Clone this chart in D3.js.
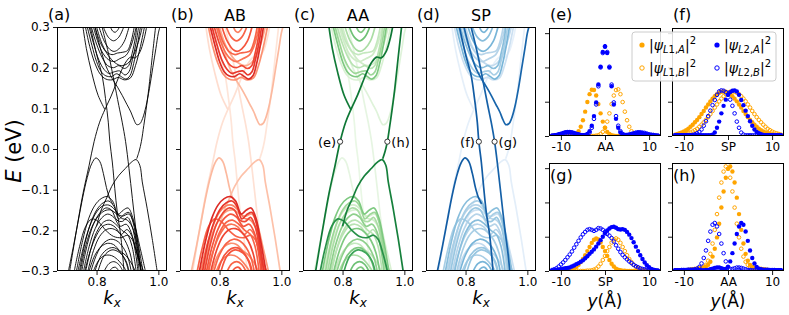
<!DOCTYPE html>
<html>
<head>
<meta charset="utf-8">
<script src="https://cdn.jsdelivr.net/npm/d3@7"></script>
<style>
  body { margin: 0; background: #fff; }
  svg text { font-family: "DejaVu Sans", sans-serif; fill: #000; }
</style>
</head>
<body>
<svg id="chart" width="789" height="315"></svg>
<script>
// ---- band structure (k_x, E in eV) ----
var kTicks = [0.8, 1.0];
var eTicks = [0.3, 0.2, 0.1, 0.0, -0.1, -0.2, -0.3];
var panelTags = ["(a)", "(b)", "(c)", "(d)"];
var panelTitles = ["", "AB", "AA", "SP"];

var bandNames = ["s1","s2","s3","g4","g5","g6","d1","d2","d3","d4",
                 "v1","v2","v3","v4","v5","v6","v7","v8","v9","v10","v11","v12","v13","v14","v15",
                 "c1","c2","c3","c4","c5","c6","c7","c8","c9","c10"];
var bands = [
  [[0.713,-0.30],[0.735,-0.20],[0.756,-0.11],[0.776,-0.04],[0.792,0.018],[0.810,0.066],[0.827,0.097],[0.846,0.128],[0.864,0.162],[0.880,0.192],[0.895,0.214],[0.910,0.226],[0.925,0.224],[0.940,0.238],[0.953,0.268],[0.962,0.30]],
  [[0.756,0.30],[0.767,0.247],[0.784,0.189],[0.805,0.132],[0.827,0.097]],
  [[0.991,0.30],[0.980,0.225],[0.969,0.148],[0.960,0.095],[0.953,0.058],[0.945,0.018],[0.938,-0.005],[0.930,-0.024]],
  [[0.800,-0.190],[0.815,-0.150],[0.833,-0.120],[0.849,-0.092],[0.871,-0.066],[0.893,-0.048],[0.912,-0.033],[0.928,-0.026],[0.940,-0.040],[0.948,-0.081],[0.964,-0.147],[0.980,-0.220],[0.996,-0.300]],
  [[0.728,-0.30],[0.745,-0.24],[0.765,-0.19],[0.785,-0.172],[0.805,-0.178],[0.830,-0.200],[0.855,-0.215],[0.880,-0.218],[0.900,-0.212],[0.915,-0.222],[0.930,-0.255],[0.945,-0.30]],
  [[0.805,-0.30],[0.825,-0.262],[0.850,-0.248],[0.875,-0.255],[0.895,-0.275],[0.905,-0.30]],
  [[0.709,-0.30],[0.725,-0.24],[0.740,-0.18],[0.755,-0.12],[0.770,-0.07],[0.785,-0.035],[0.798,-0.022],[0.810,-0.030],[0.822,-0.060],[0.832,-0.095],[0.842,-0.120],[0.852,-0.135]],
  [[0.780,0.30],[0.801,0.230],[0.818,0.181],[0.829,0.124],[0.838,0.066],[0.843,0.018],[0.851,-0.032],[0.859,-0.097],[0.867,-0.155],[0.878,-0.212],[0.889,-0.30]],
  [[0.818,0.30],[0.840,0.230],[0.856,0.169],[0.872,0.107],[0.883,0.066],[0.894,0.018],[0.905,-0.048],[0.916,-0.122],[0.927,-0.196],[0.938,-0.261],[0.943,-0.30]],
  [[0.795,0.30],[0.807,0.263],[0.830,0.205],[0.851,0.173],[0.868,0.152],[0.883,0.132],[0.898,0.110],[0.911,0.091],[0.921,0.072],[0.930,0.060],[0.940,0.062],[0.949,0.075],[0.960,0.105],[0.971,0.148],[0.982,0.200],[0.992,0.247],[1.000,0.285],[1.005,0.30]],
  [[0.735,-0.30],[0.755,-0.225],[0.775,-0.17],[0.795,-0.138],[0.815,-0.122],[0.835,-0.117],[0.852,-0.128],[0.870,-0.160],[0.887,-0.150],[0.902,-0.145],[0.917,-0.168],[0.932,-0.222],[0.950,-0.30]],
  [[0.745,-0.30],[0.763,-0.23],[0.782,-0.18],[0.802,-0.148],[0.822,-0.132],[0.840,-0.128],[0.857,-0.142],[0.872,-0.172],[0.890,-0.160],[0.905,-0.156],[0.918,-0.180],[0.930,-0.230],[0.943,-0.30]],
  [[0.752,-0.30],[0.770,-0.235],[0.790,-0.185],[0.810,-0.158],[0.830,-0.145],[0.848,-0.150],[0.866,-0.175],[0.884,-0.178],[0.900,-0.168],[0.915,-0.190],[0.928,-0.240],[0.938,-0.30]],
  [[0.758,-0.30],[0.776,-0.24],[0.796,-0.195],[0.816,-0.170],[0.836,-0.160],[0.856,-0.168],[0.876,-0.190],[0.896,-0.185],[0.912,-0.205],[0.925,-0.25],[0.934,-0.30]],
  [[0.765,-0.30],[0.782,-0.245],[0.800,-0.205],[0.822,-0.180],[0.842,-0.175],[0.862,-0.185],[0.882,-0.200],[0.900,-0.210],[0.915,-0.24],[0.928,-0.30]],
  [[0.772,-0.30],[0.790,-0.25],[0.810,-0.215],[0.832,-0.198],[0.852,-0.196],[0.872,-0.205],[0.892,-0.225],[0.908,-0.255],[0.920,-0.30]],
  [[0.782,-0.30],[0.800,-0.26],[0.822,-0.232],[0.845,-0.222],[0.866,-0.226],[0.886,-0.242],[0.902,-0.268],[0.912,-0.30]],
  [[0.795,-0.30],[0.815,-0.262],[0.838,-0.245],[0.858,-0.243],[0.878,-0.255],[0.895,-0.278],[0.903,-0.30]],
  [[0.825,-0.30],[0.840,-0.282],[0.856,-0.277],[0.872,-0.284],[0.885,-0.30]],
  [[0.842,-0.30],[0.852,-0.292],[0.862,-0.291],[0.872,-0.30]],
  [[0.740,-0.30],[0.758,-0.24],[0.778,-0.19],[0.800,-0.155],[0.820,-0.140],[0.840,-0.138],[0.860,-0.150],[0.880,-0.170],[0.900,-0.175],[0.920,-0.200],[0.935,-0.26],[0.945,-0.30]],
  [[0.748,-0.30],[0.766,-0.235],[0.786,-0.190],[0.806,-0.165],[0.826,-0.152],[0.846,-0.150],[0.866,-0.160],[0.884,-0.165],[0.904,-0.160],[0.922,-0.185],[0.940,-0.24],[0.958,-0.30]],
  [[0.762,-0.30],[0.780,-0.250],[0.800,-0.212],[0.820,-0.190],[0.840,-0.185],[0.860,-0.192],[0.880,-0.210],[0.898,-0.198],[0.915,-0.215],[0.930,-0.255],[0.952,-0.30]],
  [[0.776,-0.30],[0.794,-0.262],[0.815,-0.240],[0.835,-0.232],[0.855,-0.235],[0.875,-0.250],[0.895,-0.262],[0.912,-0.280],[0.925,-0.30]],
  [[0.790,-0.30],[0.806,-0.275],[0.826,-0.262],[0.848,-0.262],[0.868,-0.272],[0.888,-0.290],[0.896,-0.30]],
  [[0.770,0.30],[0.785,0.255],[0.800,0.215],[0.815,0.190],[0.830,0.180],[0.848,0.178],[0.865,0.185],[0.880,0.178],[0.895,0.172],[0.908,0.180],[0.920,0.210],[0.932,0.255],[0.942,0.30]],
  [[0.776,0.30],[0.792,0.255],[0.808,0.218],[0.824,0.196],[0.840,0.186],[0.858,0.190],[0.875,0.192],[0.892,0.182],[0.905,0.190],[0.916,0.220],[0.928,0.262],[0.936,0.30]],
  [[0.783,0.30],[0.800,0.258],[0.818,0.225],[0.836,0.205],[0.855,0.200],[0.872,0.205],[0.890,0.198],[0.904,0.205],[0.915,0.235],[0.926,0.275],[0.930,0.30]],
  [[0.795,0.30],[0.812,0.262],[0.830,0.240],[0.850,0.232],[0.868,0.236],[0.885,0.238],[0.900,0.242],[0.912,0.265],[0.922,0.30]],
  [[0.808,0.30],[0.825,0.265],[0.843,0.245],[0.857,0.240],[0.872,0.246],[0.890,0.265],[0.905,0.30]],
  [[0.822,0.30],[0.838,0.275],[0.855,0.266],[0.872,0.275],[0.888,0.30]],
  [[0.845,0.30],[0.852,0.290],[0.860,0.287],[0.868,0.292],[0.874,0.30]],
  [[0.790,0.30],[0.805,0.262],[0.820,0.236],[0.838,0.220],[0.856,0.215],[0.875,0.222],[0.895,0.230],[0.910,0.250],[0.922,0.280],[0.928,0.30]],
  [[0.764,0.30],[0.778,0.252],[0.794,0.212],[0.812,0.184],[0.830,0.172],[0.850,0.170],[0.870,0.176],[0.890,0.170],[0.910,0.175],[0.926,0.205],[0.942,0.252],[0.955,0.30]],
  [[0.800,0.30],[0.818,0.258],[0.838,0.230],[0.860,0.212],[0.880,0.205],[0.900,0.210],[0.918,0.228],[0.935,0.262],[0.948,0.30]]
];
// projected weight of each band on the AB, AA and SP regions
var weightAB = [0.08,0.10,0.06,0.22,0.55,0.60,0.25,0.06,0.08,0.25,
                0.75,0.70,0.65,0.60,0.55,0.65,0.55,0.60,0.55,0.60,0.45,0.35,0.50,0.40,0.45,
                0.75,0.70,0.65,0.55,0.60,0.55,0.45,0.50,0.40,0.30];
var weightAA = [0.92,0.90,0.92,0.88,0.80,0.70,0.08,0.06,0.08,0.12,
                0.50,0.40,0.35,0.45,0.30,0.50,0.45,0.50,0.55,0.50,0.20,0.15,0.30,0.25,0.35,
                0.50,0.40,0.30,0.25,0.35,0.55,0.50,0.20,0.15,0.20];
var weightSP = [0.05,0.06,0.05,0.07,0.35,0.40,0.92,0.92,0.90,0.88,
                0.45,0.35,0.40,0.30,0.45,0.35,0.50,0.40,0.50,0.50,0.30,0.20,0.30,0.25,0.35,
                0.50,0.35,0.45,0.30,0.50,0.45,0.50,0.30,0.20,0.25];

var markerE = 0.018;
var markerAA = [0.792, 0.945];
var markerAALabels = ["(e)", "(h)"];
var markerSP = [0.843, 0.894];
var markerSPLabels = ["(f)", "(g)"];

// ---- wavefunction weights vs y (Angstrom) ----
var yPos = [-12,-11.5,-11,-10.5,-10,-9.5,-9, -8.5,-8,-7.5,-7,-6.5,-6,-5.5, -5,-4.5,-4,-3.5,-3,-2.5,-2,
            -1.5,-1,-0.5,0,0.5,1,1.5, 2,2.5,3,3.5,4,4.5,5, 5.5,6,6.5,7,7.5,8,8.5, 9,9.5,10,10.5,11,11.5,12];
var yTicks = [-10, 0, 10];

var eL1A = [0,0,0,0,0,0,0.01, 0.01,0.01,0.02,0.03,0.07,0.14,0.27, 0.46,0.71,0.99,1.22,1.35,1.34,1.18,
            0.93,0.66,0.42,0.24,0.12,0.06,0.02, 0.01,0,0,0,0,0,0, 0,0,0,0,0,0,0, 0,0,0,0,0,0,0];
var eL1B = [0,0,0,0,0,0,0, 0,0,0,0,0,0,0, 0,0,0,0,0,0,0.01,
            0.02,0.06,0.12,0.24,0.42,0.66,0.93, 1.18,1.34,1.36,1.22,0.99,0.71,0.46, 0.27,0.14,0.07,0.03,0.02,0.01,0.01, 0.01,0,0,0,0,0,0];
var eL2A = [0.01,0.02,0.03,0.05,0.07,0.09,0.11, 0.12,0.12,0.11,0.09,0.07,0.05,0.03, 0.02,0.03,0.06,0.14,0.30,0.58,0.98,
            1.50,2.02,2.45,2.60,2.42,2.00,1.45, 0.92,0.50,0.24,0.10,0.04,0.03,0.03, 0.04,0.05,0.07,0.08,0.09,0.09,0.08, 0.06,0.05,0.03,0.02,0.02,0.01,0.01];
var eL2B = [0.01,0.01,0.02,0.03,0.04,0.05,0.06, 0.07,0.07,0.06,0.05,0.04,0.03,0.02, 0.02,0.02,0.04,0.10,0.24,0.50,0.92,
            1.45,2.00,2.42,2.62,2.45,2.02,1.50, 0.98,0.58,0.30,0.14,0.06,0.03,0.03, 0.04,0.06,0.08,0.10,0.11,0.11,0.10, 0.09,0.07,0.05,0.04,0.03,0.02,0.01];

var fL1A = [0.04,0.06,0.08,0.10,0.13,0.17,0.21, 0.27,0.33,0.40,0.47,0.55,0.64,0.73, 0.83,0.92,1.01,1.09,1.16,1.22,1.26,
            1.29,1.30,1.29,1.26,1.22,1.16,1.09, 1.01,0.92,0.83,0.73,0.64,0.55,0.47, 0.40,0.33,0.27,0.21,0.17,0.13,0.10, 0.08,0.06,0.04,0.03,0.02,0.02,0.01];
var fL1B = [0.01,0.02,0.02,0.03,0.04,0.06,0.08, 0.10,0.13,0.17,0.21,0.27,0.33,0.40, 0.47,0.55,0.64,0.73,0.83,0.92,1.01,
            1.09,1.16,1.22,1.26,1.29,1.30,1.29, 1.26,1.22,1.16,1.09,1.01,0.92,0.83, 0.73,0.64,0.55,0.47,0.40,0.33,0.27, 0.21,0.17,0.13,0.10,0.08,0.06,0.04];
var fL2A = [0.02,0.02,0.02,0.02,0.02,0.02,0.02, 0.02,0.02,0.02,0.02,0.02,0.02,0.02, 0.02,0.02,0.02,0.04,0.10,0.24,0.42,
            0.66,0.88,1.06,1.20,1.28,1.32,1.33, 1.30,1.20,1.05,0.90,0.74,0.58,0.43, 0.30,0.19,0.12,0.08,0.05,0.03,0.02, 0.02,0.02,0.02,0.02,0.02,0.02,0.02];
var fL2B = [0.02,0.02,0.02,0.02,0.02,0.02,0.02, 0.02,0.03,0.05,0.08,0.12,0.19,0.30, 0.43,0.58,0.74,0.90,1.05,1.20,1.30,
            1.33,1.32,1.28,1.20,1.06,0.88,0.66, 0.42,0.24,0.10,0.04,0.02,0.02,0.02, 0.02,0.02,0.02,0.02,0.02,0.02,0.02, 0.02,0.02,0.02,0.02,0.02,0.02,0.02];

var gL1A = [0,0,0,0,0.01,0.01,0.01, 0.02,0.03,0.05,0.08,0.12,0.18,0.26, 0.35,0.46,0.58,0.70,0.82,0.91,0.95,
            0.92,0.83,0.70,0.58,0.44,0.32,0.21, 0.13,0.07,0.04,0.02,0.01,0.01,0, 0,0,0,0,0,0,0, 0,0,0,0,0,0,0];
var gL1B = [0,0,0,0,0,0,0, 0,0,0,0,0,0,0, 0,0,0.01,0.01,0.02,0.04,0.07,
            0.13,0.21,0.32,0.44,0.58,0.70,0.83, 0.92,0.95,0.91,0.82,0.70,0.58,0.46, 0.35,0.26,0.18,0.12,0.08,0.05,0.03, 0.02,0.01,0.01,0.01,0,0,0];
var gL2A = [0.01,0.02,0.03,0.04,0.05,0.07,0.08, 0.09,0.10,0.13,0.16,0.20,0.23,0.27, 0.31,0.37,0.43,0.50,0.56,0.63,0.71,
            0.80,0.90,1.00,1.10,1.18,1.24,1.28, 1.29,1.26,1.22,1.21,1.22,1.20,1.14, 1.06,0.96,0.84,0.71,0.58,0.46,0.35, 0.25,0.17,0.11,0.06,0.04,0.02,0.01];
var gL2B = [0.03,0.05,0.08,0.13,0.19,0.25,0.32, 0.40,0.48,0.57,0.68,0.78,0.88,0.98, 1.07,1.14,1.20,1.22,1.20,1.17,1.20,
            1.25,1.24,1.20,1.14,1.08,1.03,0.96, 0.86,0.75,0.65,0.55,0.47,0.40,0.34, 0.28,0.23,0.18,0.14,0.11,0.08,0.06, 0.05,0.04,0.03,0.02,0.02,0.01,0.01];

var hL1A = [0.01,0.01,0.01,0.01,0.01,0.02,0.03, 0.04,0.05,0.06,0.06,0.07,0.08,0.10, 0.13,0.18,0.27,0.42,0.65,0.98,1.38,
            1.85,2.32,2.72,2.98,3.05,2.90,2.58, 2.14,1.66,1.20,0.80,0.50,0.30,0.18, 0.12,0.09,0.08,0.07,0.06,0.05,0.04, 0.03,0.02,0.01,0.01,0.01,0.01,0.01];
var hL1B = [0.01,0.01,0.01,0.01,0.01,0.02,0.03, 0.04,0.05,0.06,0.07,0.08,0.09,0.12, 0.18,0.30,0.50,0.80,1.20,1.66,2.14,
            2.58,2.90,3.05,2.98,2.72,2.32,1.85, 1.38,0.98,0.65,0.42,0.27,0.18,0.13, 0.10,0.08,0.07,0.06,0.06,0.05,0.04, 0.03,0.02,0.01,0.01,0.01,0.01,0.01];
var hL2A = [0.02,0.02,0.02,0.02,0.02,0.02,0.02, 0.02,0.02,0.02,0.02,0.02,0.02,0.02, 0.03,0.03,0.05,0.07,0.09,0.10,0.10,
            0.08,0.06,0.06,0.12,0.28,0.52,0.80, 1.08,1.30,1.40,1.35,1.15,0.88,0.60, 0.38,0.22,0.12,0.07,0.05,0.04,0.04, 0.04,0.03,0.03,0.03,0.02,0.02,0.02];
var hL2B = [0.02,0.02,0.02,0.03,0.03,0.03,0.04, 0.04,0.04,0.05,0.07,0.12,0.22,0.38, 0.60,0.88,1.15,1.35,1.40,1.30,1.08,
            0.80,0.52,0.28,0.12,0.06,0.06,0.08, 0.10,0.10,0.09,0.07,0.05,0.03,0.03, 0.02,0.02,0.02,0.02,0.02,0.02,0.02, 0.02,0.02,0.02,0.02,0.02,0.02,0.02];

var psiPanels = [
  { tag: "(e)", site: "AA", series: [eL1A, eL1B, eL2A, eL2B] },
  { tag: "(f)", site: "SP", series: [fL1A, fL1B, fL2A, fL2B] },
  { tag: "(g)", site: "SP", series: [gL1A, gL1B, gL2A, gL2B] },
  { tag: "(h)", site: "AA", series: [hL1A, hL1B, hL2A, hL2B] }
];
var seriesSubs = ["L1,A", "L1,B", "L2,A", "L2,B"];
var seriesColors = ["orange", "orange", "#0000ff", "#0000ff"];
var seriesFilled = [true, false, true, false];

// ---- layout ----
var svg = d3.select("#chart");
var top0 = 27, bottom0 = 271, pw = 110;
var lefts = [57, 180, 303, 426];
var colormaps = [null, d3.interpolateReds, d3.interpolateGreens, d3.interpolateBlues];
var weights = [null, weightAB, weightAA, weightSP];

var yE = d3.scaleLinear().domain([-0.3, 0.3]).range([bottom0, top0]);

function styleAxis(g, size) {
  g.select(".domain").remove();
  g.selectAll(".tick line").attr("stroke", "#000").attr("stroke-width", 0.9);
  g.selectAll(".tick text").attr("font-size", size).attr("font-family", "DejaVu Sans, sans-serif").attr("fill", "#000");
}

lefts.forEach(function (left, p) {
  var xK = d3.scaleLinear().domain([0.672, 1.028]).range([left, left + pw]);
  var g = svg.append("g");
  var clipId = "clip" + p;
  svg.append("clipPath").attr("id", clipId).append("rect")
    .attr("x", left).attr("y", top0).attr("width", pw).attr("height", bottom0 - top0);

  var line = d3.line().x(function (d) { return xK(d[0]); }).y(function (d) { return yE(d[1]); })
    .curve(d3.curveCatmullRom.alpha(0.5));

  var order = d3.range(bands.length);
  if (p > 0) order.sort(function (a, b) { return weights[p][a] - weights[p][b]; });

  g.append("g").attr("clip-path", "url(#" + clipId + ")")
    .selectAll("path").data(order).enter().append("path")
    .attr("d", function (i) { return line(bands[i]); })
    .attr("fill", "none")
    .attr("stroke", function (i) { return p === 0 ? "#000" : colormaps[p](0.04 + 0.86 * weights[p][i]); })
    .attr("stroke-width", p === 0 ? 0.9 : 1.7);

  // axes
  var ax = g.append("g").attr("transform", "translate(" + left + ",0)")
    .call(d3.axisLeft(yE).tickValues(eTicks).tickSize(4).tickPadding(3)
      .tickFormat(p === 0 ? d3.format(".1f") : ""));
  styleAxis(ax, 12);
  var bx = g.append("g").attr("transform", "translate(0," + bottom0 + ")")
    .call(d3.axisBottom(xK).tickValues(kTicks).tickSize(4).tickPadding(2).tickFormat(d3.format(".1f")));
  styleAxis(bx, 12);

  g.append("rect").attr("x", left + 0.5).attr("y", top0 + 0.5).attr("width", pw - 1).attr("height", bottom0 - top0 - 1)
    .attr("fill", "none").attr("stroke", "#000").attr("stroke-width", 1);

  g.append("text").attr("x", left - 9).attr("y", 20).attr("font-size", 16).text(panelTags[p]);
  if (panelTitles[p]) {
    g.append("text").attr("x", left + pw / 2).attr("y", 21).attr("text-anchor", "middle")
      .attr("font-size", 16).text(panelTitles[p]);
  }

  var kl = g.append("text").attr("x", left + pw / 2).attr("y", 304).attr("text-anchor", "middle").attr("font-size", 18);
  kl.append("tspan").attr("font-style", "italic").text("k");
  kl.append("tspan").attr("font-style", "italic").attr("font-size", 12).attr("dy", 3).text("x");

  // marker points of panels (e)-(h)
  var mk = p === 2 ? markerAA : (p === 3 ? markerSP : null);
  var ml = p === 2 ? markerAALabels : markerSPLabels;
  if (mk) {
    mk.forEach(function (k, j) {
      g.append("circle").attr("cx", xK(k)).attr("cy", yE(markerE)).attr("r", 2.6)
        .attr("fill", "#fff").attr("stroke", "#333").attr("stroke-width", 1);
      g.append("text").attr("x", xK(k) + (j === 0 ? -4 : 4)).attr("y", yE(markerE) + 5)
        .attr("text-anchor", j === 0 ? "end" : "start").attr("font-size", 13).text(ml[j]);
    });
  }
});

// y label
var yl = svg.append("text").attr("transform", "translate(21,151) rotate(-90)")
  .attr("text-anchor", "middle").attr("font-size", 21);
yl.append("tspan").attr("font-style", "italic").text("E");
yl.append("tspan").text(" (eV)");

// ---- wavefunction panels ----
var psiBoxes = [
  { x: 549, y: 28 }, { x: 672, y: 28 }, { x: 549, y: 163 }, { x: 672, y: 163 }
];
var psiW = 112, psiH = 108;

psiPanels.forEach(function (panel, p) {
  var box = psiBoxes[p];
  var xs = d3.scaleLinear().domain([-12.7, 12.7]).range([box.x, box.x + psiW]);
  var ys = d3.scaleLinear().domain([0, 3.15]).range([box.y + psiH, box.y]);
  var g = svg.append("g");
  var clipId = "pclip" + p;
  svg.append("clipPath").attr("id", clipId).append("rect")
    .attr("x", box.x).attr("y", box.y).attr("width", psiW).attr("height", psiH);

  var dots = g.append("g").attr("clip-path", "url(#" + clipId + ")");
  panel.series.forEach(function (vals, s) {
    dots.append("g").selectAll("circle").data(vals).enter().append("circle")
      .attr("cx", function (d, i) { return xs(yPos[i]); })
      .attr("cy", function (d) { return ys(d); })
      .attr("r", seriesFilled[s] ? 2.2 : 1.8)
      .attr("fill", seriesFilled[s] ? seriesColors[s] : "none")
      .attr("stroke", seriesColors[s])
      .attr("stroke-width", seriesFilled[s] ? 0 : 1);
  });

  var ax = g.append("g").attr("transform", "translate(" + box.x + ",0)")
    .call(d3.axisLeft(ys).tickValues([0, 1, 2, 3]).tickSize(4).tickFormat(""));
  styleAxis(ax, 12);
  var siteLabels = ["-10", panel.site, "10"];
  var bx = g.append("g").attr("transform", "translate(0," + (box.y + psiH) + ")")
    .call(d3.axisBottom(xs).tickValues(yTicks).tickSize(4).tickPadding(2)
      .tickFormat(function (d, i) { return siteLabels[i]; }));
  styleAxis(bx, 12);

  g.append("rect").attr("x", box.x + 0.5).attr("y", box.y + 0.5).attr("width", psiW - 1).attr("height", psiH - 1)
    .attr("fill", "none").attr("stroke", "#000").attr("stroke-width", 1);

  if (p < 2) {
    g.append("text").attr("x", box.x + 1).attr("y", 20).attr("font-size", 16).text(panel.tag);
  } else {
    g.append("text").attr("x", box.x + 1).attr("y", box.y + 18).attr("font-size", 16).text(panel.tag);
    var xl = g.append("text").attr("x", box.x + psiW / 2).attr("y", 307).attr("text-anchor", "middle").attr("font-size", 17);
    xl.append("tspan").attr("font-style", "italic").text("y");
    xl.append("tspan").text("(Å)");
  }
});

// ---- legend ----
var leg = svg.append("g").attr("transform", "translate(632,32)");
leg.append("rect").attr("width", 144).attr("height", 49).attr("rx", 3)
  .attr("fill", "#fff").attr("fill-opacity", 0.85).attr("stroke", "#ccc").attr("stroke-width", 1);
var legPos = [[10, 13], [10, 36], [85, 13], [85, 36]];
seriesSubs.forEach(function (sub, s) {
  var lx = legPos[s][0], ly = legPos[s][1];
  leg.append("circle").attr("cx", lx).attr("cy", ly).attr("r", seriesFilled[s] ? 2.6 : 2.2)
    .attr("fill", seriesFilled[s] ? seriesColors[s] : "none")
    .attr("stroke", seriesColors[s]).attr("stroke-width", seriesFilled[s] ? 0 : 1);
  var t = leg.append("text").attr("x", lx + 7).attr("y", ly + 5).attr("font-size", 14);
  t.append("tspan").text("|");
  t.append("tspan").attr("font-style", "italic").text("ψ");
  var parts = sub.split(",");
  t.append("tspan").attr("font-size", 10).attr("dy", 3).attr("font-style", "italic").text(parts[0].charAt(0));
  t.append("tspan").attr("font-size", 10).text(parts[0].slice(1) + ",");
  t.append("tspan").attr("font-size", 10).attr("font-style", "italic").text(parts[1]);
  t.append("tspan").attr("dy", -3).text("|");
  t.append("tspan").attr("font-size", 10).attr("dy", -6).text("2");
});
</script>
</body>
</html>
